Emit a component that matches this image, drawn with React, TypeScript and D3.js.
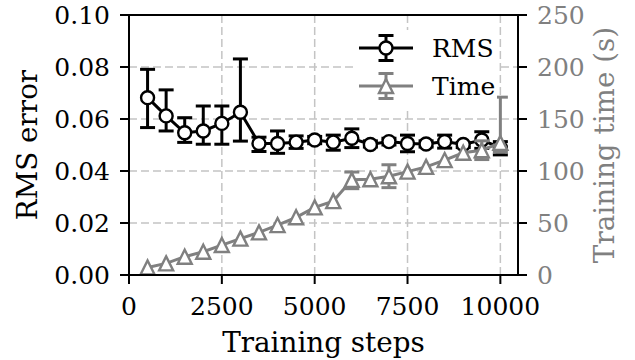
import React from 'react';
import * as d3 from 'd3';

const steps = [500, 1000, 1500, 2000, 2500, 3000, 3500, 4000, 4500, 5000, 5500, 6000, 6500, 7000, 7500, 8000, 8500, 9000, 9500, 10000];
const rms = [0.0682, 0.0612, 0.0547, 0.0554, 0.0583, 0.0626, 0.0506, 0.0506, 0.0511, 0.0519, 0.0511, 0.0526, 0.0502, 0.0513, 0.0506, 0.0504, 0.0513, 0.0502, 0.0519, 0.049];
const rmsLo = [0.0567, 0.0554, 0.051, 0.0503, 0.0503, 0.0515, 0.0475, 0.0468, 0.0487, 0.0505, 0.048, 0.049, 0.0492, 0.05, 0.0474, 0.0492, 0.0488, 0.049, 0.0487, 0.0462];
const rmsHi = [0.0791, 0.0712, 0.0605, 0.065, 0.065, 0.0831, 0.053, 0.0554, 0.0535, 0.0533, 0.0538, 0.0562, 0.0516, 0.0526, 0.0538, 0.0516, 0.0538, 0.051, 0.0551, 0.0513];
const time = [7.2, 11.2, 17.6, 22.4, 28.8, 35, 41, 48, 55.5, 65, 71, 91.5, 92, 95, 99.4, 104, 110.5, 117.5, 120, 127];
const timeLo = [7.2, 11.2, 17.6, 22.4, 28.8, 35, 41, 48, 55.5, 65, 71, 83, 92, 84, 99.4, 104, 110.5, 117.5, 111, 118];
const timeHi = [7.2, 11.2, 17.6, 22.4, 28.8, 35, 41, 48, 55.5, 65, 71, 99, 92, 106, 99.4, 104, 110.5, 117.5, 129, 171];

const xTicks = [0, 2500, 5000, 7500, 10000];
const rmsTicks = [0, 0.02, 0.04, 0.06, 0.08, 0.1];
const timeTicks = [0, 50, 100, 150, 200, 250];

const W = 635, H = 360;
const left = 129, right = 518, top = 15, bottom = 275;
const FONT = "'DejaVu Serif', serif";
const GRAY = '#808080';
const LW = 3;
const MW = 2.4;
const TICK_FS = 25;
const LABEL_FS = 27.8;

export default function App() {
  const x = d3.scaleLinear().domain([0, 10475]).range([left, right]);
  const yL = d3.scaleLinear().domain([0, 0.1]).range([bottom, top]);
  const yR = d3.scaleLinear().domain([0, 250]).range([bottom, top]);

  const rmsLine = d3.line<number>().x((_, i) => x(steps[i])).y(d => yL(d))(rms) || '';
  const timeLine = d3.line<number>().x((_, i) => x(steps[i])).y(d => yR(d))(time) || '';
  const tri = (cx: number, cy: number, s = 7) => `M${cx},${cy - s}L${cx + s},${cy + s}L${cx - s},${cy + s}Z`;
  const cap = 7.5;
  const mid = TICK_FS * 0.364;

  const errBars = (lo: number[], hi: number[], y: (v: number) => number, color: string) =>
    steps.map((s, i) => {
      if (Math.abs(y(hi[i]) - y(lo[i])) < 1) return null;
      const cx = x(s);
      return (
        <g key={i} stroke={color} strokeWidth={LW}>
          <line x1={cx} x2={cx} y1={y(lo[i])} y2={y(hi[i])} />
          <line x1={cx - cap} x2={cx + cap} y1={y(lo[i])} y2={y(lo[i])} />
          <line x1={cx - cap} x2={cx + cap} y1={y(hi[i])} y2={y(hi[i])} />
        </g>
      );
    });

  return (
    <svg width={W} height={H} style={{ position: 'absolute', left: 0, top: 0, background: '#fff', fontFamily: FONT }}>
      {/* grid */}
      <g stroke="#c4c4c4" strokeWidth={1.5} strokeDasharray="8,4">
        {xTicks.slice(1).map(t => <line key={'gx' + t} x1={x(t)} x2={x(t)} y1={top} y2={bottom} />)}
        {rmsTicks.slice(1, -1).map(t => <line key={'gy' + t} x1={left} x2={right} y1={yL(t)} y2={yL(t)} />)}
      </g>

      {/* RMS */}
      <path d={rmsLine} fill="none" stroke="#000" strokeWidth={LW} />
      {errBars(rmsLo, rmsHi, yL, '#000')}
      {steps.map((s, i) => <circle key={'c' + i} cx={x(s)} cy={yL(rms[i])} r={6.5} fill="#fff" stroke="#000" strokeWidth={MW} />)}

      {/* Time */}
      <path d={timeLine} fill="none" stroke={GRAY} strokeWidth={LW} />
      {errBars(timeLo, timeHi, yR, GRAY)}
      {steps.map((s, i) => <path key={'t' + i} d={tri(x(s), yR(time[i]))} fill="#fff" stroke={GRAY} strokeWidth={MW} />)}

      {/* spines */}
      <rect x={left} y={top} width={right - left} height={bottom - top} fill="none" stroke="#000" strokeWidth={2} />

      {/* x axis */}
      {xTicks.map(t => (
        <g key={'xt' + t}>
          <line x1={x(t)} x2={x(t)} y1={bottom} y2={bottom + 9} stroke="#000" strokeWidth={2} />
          <text x={x(t)} y={315} fontSize={TICK_FS} textAnchor="middle">{t}</text>
        </g>
      ))}
      <text x={(left + right) / 2} y={352} fontSize={LABEL_FS} textAnchor="middle">Training steps</text>

      {/* left axis */}
      {rmsTicks.map(t => (
        <g key={'yl' + t}>
          <line x1={left - 9} x2={left} y1={yL(t)} y2={yL(t)} stroke="#000" strokeWidth={2} />
          <text x={110} y={yL(t) + mid} fontSize={TICK_FS} textAnchor="end">{t.toFixed(2)}</text>
        </g>
      ))}
      <text transform={`translate(37,${(top + bottom) / 2}) rotate(-90)`} fontSize={LABEL_FS} textAnchor="middle">RMS error</text>

      {/* right axis */}
      {timeTicks.map(t => (
        <g key={'yr' + t}>
          <line x1={right} x2={right + 9} y1={yR(t)} y2={yR(t)} stroke="#000" strokeWidth={2} />
          <text x={537} y={yR(t) + mid} fontSize={TICK_FS} fill={GRAY}>{t}</text>
        </g>
      ))}
      <text transform={`translate(614,${(top + bottom) / 2}) rotate(-90)`} fontSize={LABEL_FS} textAnchor="middle" fill={GRAY}>Training time (s)</text>

      {/* legend */}
      <rect x={356} y={30} width={141} height={78} rx={4} fill="#fff" />
      {[{ label: 'RMS', color: '#000', cy: 48, mark: 'c' }, { label: 'Time', color: GRAY, cy: 86, mark: 't' }].map(l => (
        <g key={l.label}>
          <line x1={359} x2={413} y1={l.cy} y2={l.cy} stroke={l.color} strokeWidth={LW} />
          <g stroke={l.color} strokeWidth={LW}>
            <line x1={386} x2={386} y1={l.cy - 12.5} y2={l.cy + 12.5} />
            <line x1={386 - cap} x2={386 + cap} y1={l.cy - 12.5} y2={l.cy - 12.5} />
            <line x1={386 - cap} x2={386 + cap} y1={l.cy + 12.5} y2={l.cy + 12.5} />
          </g>
          {l.mark === 'c'
            ? <circle cx={386} cy={l.cy} r={6.5} fill="#fff" stroke={l.color} strokeWidth={MW} />
            : <path d={tri(386, l.cy)} fill="#fff" stroke={l.color} strokeWidth={MW} />}
          <text x={432} y={l.cy + mid} fontSize={TICK_FS}>{l.label}</text>
        </g>
      ))}
    </svg>
  );
}
